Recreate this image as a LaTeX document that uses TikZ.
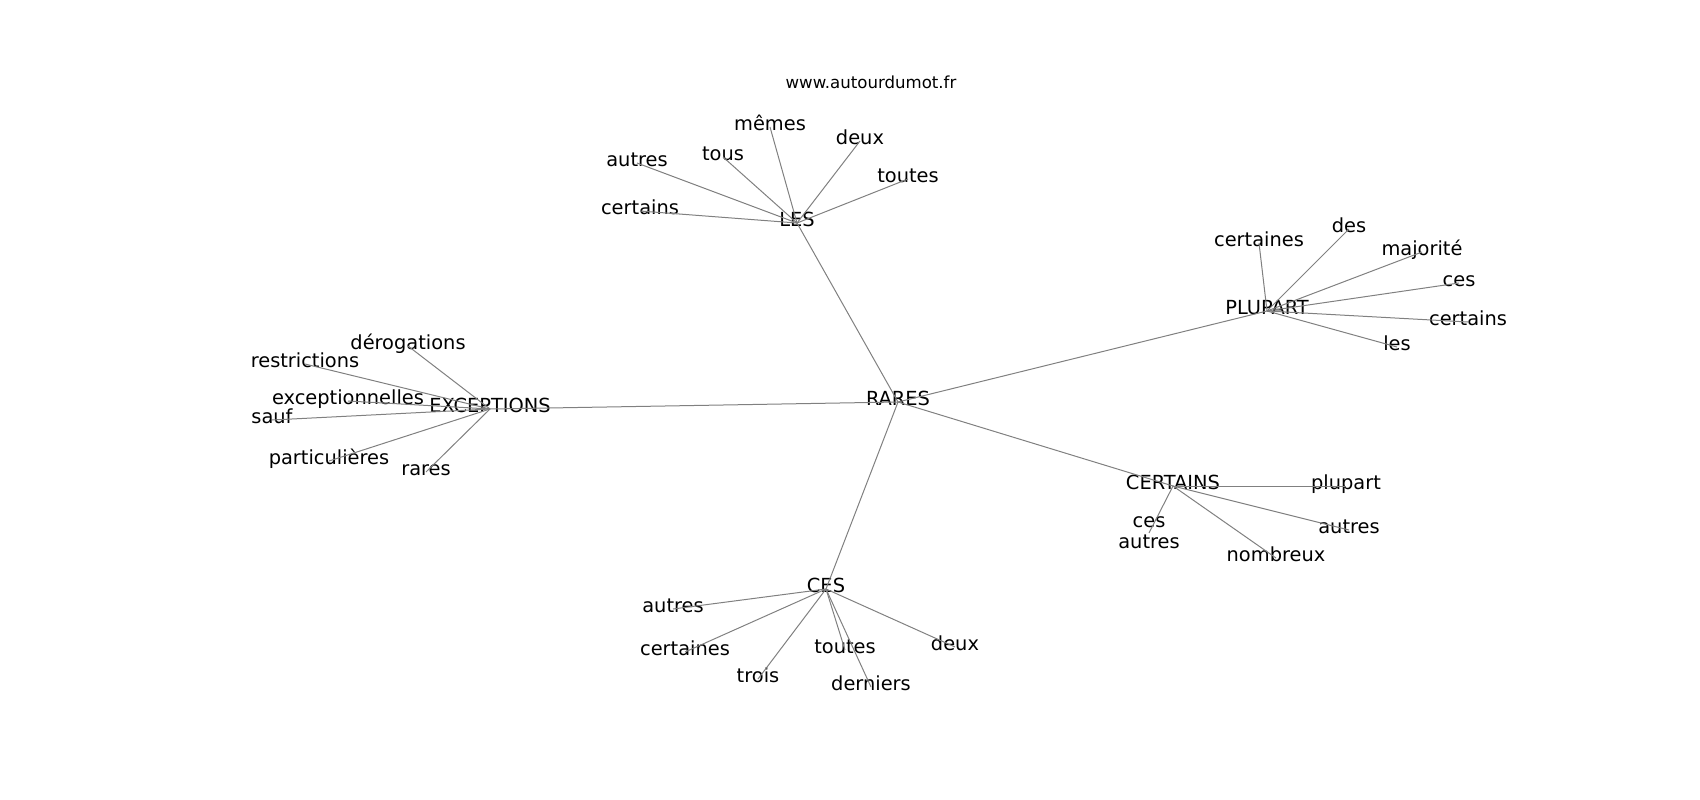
\documentclass[tikz,border=0pt]{standalone}
\usepackage{fontspec}
\setmainfont{DejaVu Sans}
\begin{document}
\begin{tikzpicture}[x={(1pt,0)},y={(0,-1pt)},
  lbl/.style={inner sep=0pt,font=\fontsize{19.4}{22.2}\selectfont,text height=0.75em,text depth=0.15em,align=center},
  url/.style={inner sep=0pt,font=\fontsize{16.6}{19}\selectfont},
  edge/.style={draw=black!50,line width=1pt}]
\useasboundingbox (0,0) rectangle (1700,800);
\begin{scope}[yshift=-4pt,every node/.style={lbl}]
\node (rares) at (898,398) {RARES};
\node (les) at (797,219) {LES};
\node (exc) at (490,405) {EXCEPTIONS};
\node (plu) at (1267,307) {PLUPART};
\node (cer) at (1173,482) {CERTAINS};
\node (ces) at (826,585) {CES};
% LES leaves
\node (l1) at (770,123) {mêmes};
\node (l2) at (860,137) {deux};
\node (l3) at (723,153) {tous};
\node (l4) at (637,159) {autres};
\node (l5) at (908,175) {toutes};
\node (l6) at (640,207) {certains};
% EXCEPTIONS leaves
\node (e1) at (408,342) {dérogations};
\node (e2) at (305,360) {restrictions};
\node (e3) at (348,397) {exceptionnelles};
\node (e4) at (272,416) {sauf};
\node (e5) at (329,457) {particulières};
\node (e6) at (426,468) {rares};
% PLUPART leaves
\node (p1) at (1259,239) {certaines};
\node (p2) at (1349,225) {des};
\node (p3) at (1422,248) {majorité};
\node (p4) at (1459,279) {ces};
\node (p5) at (1468,318) {certains};
\node (p6) at (1397,343) {les};
% CERTAINS leaves
\node (c1) at (1346,482) {plupart};
\node (c2) at (1349,526) {autres};
\node (c3) at (1276,554) {nombreux};
\node[text height=,text depth=] (c4) at (1149,529) {ces\\[-1pt]autres};
% CES leaves
\node (s1) at (673,605) {autres};
\node (s2) at (685,648) {certaines};
\node (s3) at (758,675) {trois};
\node (s4) at (845,646) {toutes};
\node (s5) at (871,683) {derniers};
\node (s6) at (955,643) {deux};
\end{scope}
\node[url] (url) at (871,82) {www.autourdumot.fr};
\foreach \a/\b in {rares/les,rares/exc,rares/plu,rares/cer,rares/ces,
  les/l1,les/l2,les/l3,les/l4,les/l5,les/l6,
  exc/e1,exc/e2,exc/e3,exc/e4,exc/e5,exc/e6,
  plu/p1,plu/p2,plu/p3,plu/p4,plu/p5,plu/p6,
  cer/c1,cer/c2,cer/c3,cer/c4,
  ces/s1,ces/s2,ces/s3,ces/s4,ces/s5,ces/s6}
  \draw[edge] (\a.center) -- (\b.center);
\end{tikzpicture}
\end{document}
